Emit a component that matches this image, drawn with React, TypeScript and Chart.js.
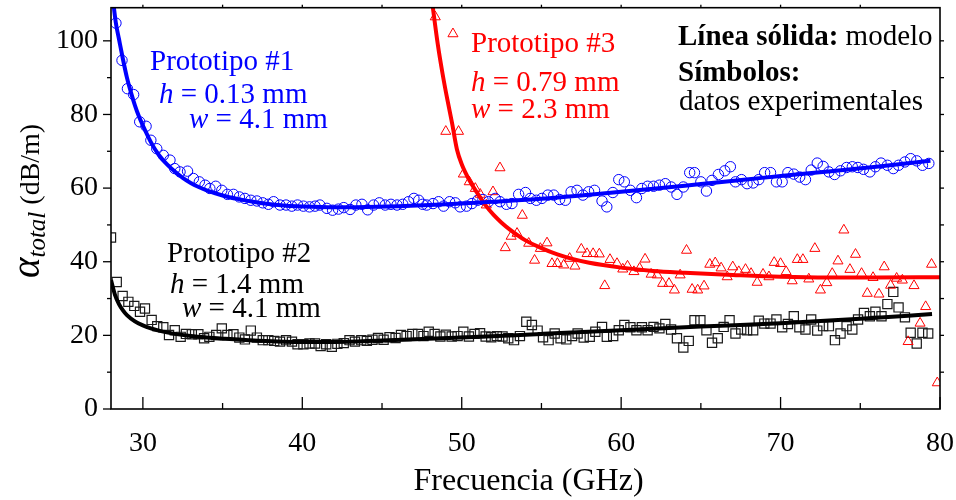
import React, { useEffect, useRef } from 'react';
import { Chart, registerables } from 'chart.js';

Chart.register(...registerables);

const FONT = '"Liberation Serif", "Times New Roman", Times, serif';

// ---------- axis ranges & ticks ----------
const xRange = [28, 80];
const yRange = [0, 109];
const xMajorTicks = [30, 40, 50, 60, 70, 80];
const xMinorTicks = [35, 45, 55, 65, 75];
const yMajorTicks = [0, 20, 40, 60, 80, 100];
const yMinorTicks = [10, 30, 50, 70, 90];
const yRightTicks = [10, 20, 30, 40, 50, 60, 70, 80, 90, 100];
const xTopTicks = [30, 35, 40, 45, 50, 55, 60, 65, 70, 75];

// ---------- model curves (solid lines) ----------
const proto1ModelFreq = [28.1, 28.3, 28.5, 28.75, 29.0, 29.25, 29.5, 29.75, 30.0, 30.5, 31.0, 31.5, 32.0, 32.5, 33.0, 33.5, 34.0, 35.0, 36.0, 37.0, 38.0, 39.0, 40.0, 42.0, 44.0, 46.0, 48.0, 50.0, 52.0, 55.0, 58.0, 60.0, 62.0, 65.0, 68.0, 70.0, 73.0, 76.0, 79.4];
const proto1ModelVal = [112, 105, 100.5, 95, 90, 86, 82.5, 79.5, 77, 72.5, 69, 66.5, 64.5, 62.8, 61.4, 60.3, 59.4, 58.0, 57.0, 56.2, 55.6, 55.2, 55.0, 54.8, 54.9, 55.1, 55.4, 55.8, 56.3, 57.1, 58.2, 59.0, 59.8, 61.1, 62.4, 63.3, 64.5, 65.8, 67.4];

const proto2ModelFreq = [28.0, 28.25, 28.5, 28.75, 29.0, 29.5, 30.0, 30.5, 31.0, 32.0, 33.0, 34.0, 35.0, 37.0, 40.0, 42.0, 45.0, 50.0, 55.0, 60.0, 65.0, 70.0, 75.0, 79.5];
const proto2ModelVal = [35, 31, 28.5, 26.8, 25.5, 23.8, 22.7, 21.9, 21.3, 20.4, 19.8, 19.4, 19.1, 18.6, 18.2, 18.2, 18.6, 19.4, 20.4, 21.4, 22.4, 23.3, 24.5, 25.8];

const proto3ModelFreq = [48.1, 48.5, 48.8, 49.1, 49.4, 49.7, 50.0, 50.5, 51.0, 51.5, 52.0, 52.5, 53.0, 54.0, 55.0, 56.0, 57.0, 58.0, 60.0, 62.0, 64.0, 67.0, 70.0, 73.0, 76.0, 80.0];
const proto3ModelVal = [112, 99, 91, 84, 77.5, 70.5, 66.5, 62, 58.5, 55.3, 52.7, 50.6, 48.8, 45.8, 43.7, 42.0, 40.7, 39.7, 38.4, 37.5, 37.0, 36.4, 35.9, 35.7, 35.7, 35.8];

// ---------- experimental data (symbols) ----------
const proto1Freq = [28.31, 28.69, 29.03, 29.42, 29.8, 30.2, 30.5, 30.87, 31.28, 31.7, 32.0, 32.33, 32.8, 33.17, 33.54, 33.9, 34.2, 34.57, 34.95, 35.3, 35.68, 36.05, 36.4, 36.77, 37.15, 37.52, 37.87, 38.2, 38.6, 38.98, 39.34, 39.7, 40.07, 40.45, 40.8, 41.1, 41.54, 41.9, 42.27, 42.6, 43.0, 43.36, 43.74, 44.1, 44.47, 44.83, 45.2, 45.56, 45.94, 46.3, 46.66, 47.0, 47.3, 47.55, 47.8, 48.2, 48.55, 48.86, 49.24, 49.6, 49.9, 50.3, 50.64, 51.0, 51.33, 51.68, 52.1, 52.4, 52.8, 53.15, 53.57, 54.0, 54.3, 54.68, 55.03, 55.4, 55.77, 56.14, 56.5, 56.86, 57.23, 57.6, 57.96, 58.33, 58.8, 59.1, 59.48, 59.85, 60.2, 60.58, 60.96, 61.3, 61.66, 62.03, 62.4, 62.77, 63.14, 63.5, 63.9, 64.3, 64.6, 65.0, 65.35, 65.7, 66.1, 66.5, 66.85, 67.17, 67.55, 67.9, 68.28, 68.63, 69.0, 69.37, 69.74, 70.1, 70.46, 70.83, 71.2, 71.56, 71.92, 72.3, 72.67, 73.03, 73.39, 73.76, 74.14, 74.5, 74.85, 75.2, 75.6, 75.95, 76.3, 76.7, 77.07, 77.4, 77.8, 78.16, 78.54, 78.9, 79.3];
const proto1Val = [104.8, 94.7, 87.0, 85.4, 78.0, 76.8, 73.0, 70.7, 68.9, 67.6, 65.3, 64.4, 64.6, 62.6, 61.7, 60.8, 59.9, 60.5, 59.4, 58.3, 58.3, 57.6, 57.2, 56.7, 56.5, 56.0, 55.6, 56.3, 55.4, 55.4, 55.1, 55.4, 55.1, 54.9, 55.1, 55.4, 54.5, 54.0, 54.3, 54.7, 54.2, 55.4, 55.6, 54.1, 55.4, 56.0, 55.4, 55.6, 55.4, 55.6, 56.3, 57.2, 56.7, 55.6, 55.4, 55.8, 56.3, 55.1, 56.3, 56.0, 54.9, 55.1, 55.8, 56.7, 56.9, 56.3, 57.2, 56.3, 55.6, 55.8, 58.3, 58.8, 57.2, 56.7, 57.2, 58.1, 58.1, 56.9, 56.7, 59.0, 59.4, 58.1, 59.0, 59.4, 56.5, 54.9, 58.8, 62.3, 61.7, 59.4, 57.4, 59.9, 60.5, 60.5, 60.8, 61.2, 60.3, 58.3, 60.3, 64.2, 64.2, 61.7, 59.2, 62.1, 63.7, 64.7, 65.8, 61.7, 62.3, 61.2, 61.4, 62.3, 64.2, 64.2, 61.7, 61.7, 64.2, 63.8, 63.0, 62.3, 64.9, 66.8, 65.9, 64.4, 63.7, 64.7, 65.6, 65.8, 65.6, 65.1, 64.4, 65.8, 66.8, 66.2, 65.3, 66.2, 67.1, 68.0, 67.4, 66.2, 66.7];

const proto2Freq = [28.0, 28.36, 28.73, 29.09, 29.46, 29.82, 30.13, 30.55, 30.9, 31.28, 31.64, 32.0, 32.37, 32.7, 33.07, 33.48, 33.84, 34.17, 34.6, 34.95, 35.3, 35.68, 36.05, 36.4, 36.77, 37.15, 37.52, 37.87, 38.24, 38.6, 38.98, 39.35, 39.7, 40.07, 40.45, 40.8, 41.15, 41.5, 41.85, 42.2, 42.6, 42.96, 43.3, 43.7, 44.05, 44.4, 44.75, 45.1, 45.47, 45.85, 46.19, 46.54, 46.9, 47.26, 47.6, 47.93, 48.3, 48.66, 49.0, 49.37, 49.74, 50.1, 50.45, 50.8, 51.15, 51.5, 51.85, 52.2, 52.56, 52.92, 53.28, 53.65, 54.05, 54.4, 54.76, 55.1, 55.45, 55.83, 56.2, 56.56, 56.92, 57.27, 57.65, 58.03, 58.38, 58.8, 59.1, 59.5, 59.85, 60.2, 60.58, 60.96, 61.3, 61.66, 62.03, 62.4, 62.77, 63.13, 63.5, 63.9, 64.24, 64.6, 64.97, 65.35, 65.7, 66.06, 66.43, 66.8, 67.17, 67.53, 67.9, 68.28, 68.63, 68.98, 69.37, 69.74, 70.1, 70.46, 70.83, 71.18, 71.56, 71.92, 72.3, 72.67, 73.03, 73.41, 73.76, 74.14, 74.5, 74.86, 75.23, 75.6, 75.95, 76.33, 76.7, 77.07, 77.4, 77.8, 78.16, 78.54, 78.9, 79.26];
const proto2Val = [46.6, 34.5, 30.7, 29.1, 28.0, 26.4, 27.3, 24.2, 22.5, 22.2, 20.1, 21.4, 19.6, 20.4, 20.3, 20.3, 19.2, 19.6, 20.1, 21.9, 20.1, 20.3, 19.4, 18.9, 21.3, 19.4, 18.7, 18.7, 18.5, 18.3, 18.7, 18.3, 17.6, 17.6, 17.8, 17.8, 17.1, 17.6, 16.9, 17.7, 17.9, 18.7, 18.3, 18.7, 18.5, 18.8, 19.3, 18.8, 19.5, 19.3, 20.1, 19.8, 20.4, 20.4, 19.8, 21.0, 20.4, 19.7, 20.2, 19.7, 19.8, 21.0, 19.7, 20.4, 20.6, 19.7, 19.5, 19.8, 19.7, 19.2, 18.7, 19.8, 23.7, 22.8, 21.3, 19.5, 18.7, 20.5, 19.2, 18.9, 19.8, 20.5, 19.4, 19.6, 21.0, 22.3, 19.6, 19.8, 21.4, 22.8, 22.2, 21.4, 22.2, 21.4, 22.3, 21.9, 23.1, 21.6, 19.2, 16.7, 18.5, 24.1, 24.1, 21.4, 18.0, 19.2, 22.3, 24.1, 20.5, 21.6, 21.4, 21.4, 24.0, 23.2, 23.2, 24.3, 22.2, 23.1, 25.2, 22.2, 21.6, 24.3, 21.3, 22.5, 22.5, 18.7, 20.5, 22.5, 21.6, 24.3, 26.1, 25.2, 26.4, 25.2, 28.5, 31.8, 27.6, 24.9, 20.7, 17.8, 20.7, 20.5];

const proto3Freq = [48.34, 49.0, 49.45, 49.8, 50.1, 50.47, 50.85, 51.16, 51.54, 51.96, 52.4, 52.73, 53.1, 53.47, 53.8, 54.2, 54.57, 54.93, 55.35, 55.66, 56.0, 56.4, 56.77, 57.1, 57.5, 57.86, 58.24, 58.63, 58.97, 59.3, 59.74, 60.1, 60.4, 60.8, 61.16, 61.5, 61.88, 62.26, 62.6, 63.0, 63.34, 63.7, 64.1, 64.45, 64.8, 65.2, 65.56, 65.9, 66.27, 66.65, 67.0, 67.38, 67.8, 68.15, 68.53, 68.9, 69.27, 69.6, 70.0, 70.35, 70.73, 71.05, 71.4, 71.77, 72.15, 72.5, 72.9, 73.24, 73.6, 73.97, 74.35, 74.7, 75.08, 75.44, 75.8, 76.17, 76.5, 76.9, 77.28, 77.64, 78.0, 78.37, 78.75, 79.1, 79.47, 79.83];
const proto3Val = [106.5, 75.4, 101.9, 75.4, 63.8, 61.7, 59.9, 58.3, 55.4, 59.0, 65.5, 43.8, 46.9, 47.7, 52.6, 45.0, 40.4, 43.6, 45.1, 39.5, 39.5, 39.1, 40.9, 38.8, 43.4, 42.2, 42.2, 42.1, 33.5, 40.6, 39.5, 38.0, 38.8, 37.3, 38.2, 40.7, 36.6, 36.4, 34.1, 34.1, 32.3, 36.4, 43.1, 32.5, 32.3, 33.4, 39.3, 39.7, 38.3, 35.9, 38.6, 37.3, 37.9, 36.8, 34.4, 36.6, 35.9, 39.8, 39.5, 37.3, 34.8, 40.6, 40.6, 35.3, 43.6, 32.3, 34.3, 36.8, 40.2, 48.6, 37.9, 42.0, 36.8, 31.4, 35.7, 31.2, 38.6, 33.6, 35.5, 35.0, 18.3, 33.5, 23.3, 27.8, 39.3, 7.1];

// ---------- text ----------
type Seg = { text: string; italic?: boolean; bold?: boolean };
type Note = { color: string; x: number; y: number; size: number; segs: Seg[] };

const notes: Note[] = [
  { color: '#0000ff', x: 150, y: 70, size: 29, segs: [{ text: 'Prototipo #1' }] },
  { color: '#0000ff', x: 159, y: 103, size: 29, segs: [{ text: 'h', italic: true }, { text: ' = 0.13 mm' }] },
  { color: '#0000ff', x: 189, y: 128, size: 29, segs: [{ text: 'w', italic: true }, { text: ' = 4.1 mm' }] },
  { color: '#000000', x: 167, y: 262, size: 29, segs: [{ text: 'Prototipo #2' }] },
  { color: '#000000', x: 170, y: 293, size: 29, segs: [{ text: 'h', italic: true }, { text: ' = 1.4 mm' }] },
  { color: '#000000', x: 182, y: 317, size: 29, segs: [{ text: 'w', italic: true }, { text: ' = 4.1 mm' }] },
  { color: '#ff0000', x: 471, y: 52, size: 29, segs: [{ text: 'Prototipo #3' }] },
  { color: '#ff0000', x: 471, y: 91, size: 29, segs: [{ text: 'h', italic: true }, { text: ' = 0.79 mm' }] },
  { color: '#ff0000', x: 471, y: 118, size: 29, segs: [{ text: 'w', italic: true }, { text: ' = 2.3 mm' }] },
  { color: '#000000', x: 678, y: 45, size: 29, segs: [{ text: 'Línea sólida:', bold: true }, { text: ' modelo' }] },
  { color: '#000000', x: 678, y: 81, size: 29, segs: [{ text: 'Símbolos:', bold: true }] },
  { color: '#000000', x: 679, y: 110, size: 29, segs: [{ text: 'datos experimentales' }] },
];

const xTitle = 'Frecuencia (GHz)';
const yTitleSymbol = 'α';
const yTitleSub = 'total';
const yTitleUnit = ' (dB/m)';

const pairs = (xs: number[], ys: number[]) => xs.map((x, i) => ({ x, y: ys[i] }));

const fontStr = (size: number, italic?: boolean, bold?: boolean) =>
  `${italic ? 'italic ' : ''}${bold ? 'bold ' : ''}${size}px ${FONT}`;

const framePlugin = {
  id: 'frameAndText',
  afterDraw(chart: any) {
    const { ctx, chartArea: a, scales } = chart;
    const xs = scales.x;
    const ys = scales.y;
    ctx.save();
    ctx.strokeStyle = '#000';
    ctx.lineWidth = 1.6;
    ctx.strokeRect(a.left, a.top, a.right - a.left, a.bottom - a.top);
    ctx.lineWidth = 1.3;
    const line = (x1: number, y1: number, x2: number, y2: number) => {
      ctx.beginPath();
      ctx.moveTo(x1, y1);
      ctx.lineTo(x2, y2);
      ctx.stroke();
    };
    xMajorTicks.forEach((v) => { const p = xs.getPixelForValue(v); line(p, a.bottom, p, a.bottom - 12); });
    xMinorTicks.forEach((v) => { const p = xs.getPixelForValue(v); line(p, a.bottom, p, a.bottom - 6); });
    xTopTicks.forEach((v) => { const p = xs.getPixelForValue(v); line(p, a.top, p, a.top - 3); });
    yMajorTicks.forEach((v) => { const p = ys.getPixelForValue(v); line(a.left, p, a.left - 8, p); });
    yMinorTicks.forEach((v) => { const p = ys.getPixelForValue(v); line(a.left, p, a.left - 4, p); });
    yRightTicks.forEach((v) => { const p = ys.getPixelForValue(v); line(a.right, p, a.right + 4, p); });

    // annotations
    ctx.textBaseline = 'alphabetic';
    ctx.textAlign = 'left';
    notes.forEach((n) => {
      ctx.fillStyle = n.color;
      let x = n.x;
      n.segs.forEach((s) => {
        ctx.font = fontStr(n.size, s.italic, s.bold);
        ctx.fillText(s.text, x, n.y);
        x += ctx.measureText(s.text).width;
      });
    });

    // x title
    ctx.fillStyle = '#000';
    ctx.font = fontStr(32);
    ctx.textAlign = 'center';
    ctx.fillText(xTitle, (a.left + a.right) / 2 + 3, 490);

    // y title (rotated)
    ctx.textAlign = 'left';
    ctx.translate(39, 278);
    ctx.rotate(-Math.PI / 2);
    let u = 0;
    ctx.font = fontStr(39, true);
    ctx.fillText(yTitleSymbol, u, 0);
    u += ctx.measureText(yTitleSymbol).width;
    ctx.font = fontStr(25, true);
    ctx.fillText(yTitleSub, u, 6);
    u += ctx.measureText(yTitleSub).width;
    ctx.font = fontStr(28);
    ctx.fillText(yTitleUnit, u, 0);
    ctx.restore();
  },
};

const zeroPad = (s: any) => {
  s.paddingTop = 0;
  s.paddingBottom = 0;
  s.paddingLeft = 0;
  s.paddingRight = 0;
};

export default function App() {
  const ref = useRef<HTMLCanvasElement | null>(null);

  useEffect(() => {
    if (!ref.current) return;
    const lineDs = (label: string, xsArr: number[], ysArr: number[], color: string) => ({
      label,
      data: pairs(xsArr, ysArr),
      showLine: true,
      borderColor: color,
      backgroundColor: color,
      borderWidth: 4,
      pointRadius: 0,
      cubicInterpolationMode: 'monotone' as const,
      clip: 0,
    });
    const symDs = (label: string, xsArr: number[], ysArr: number[], color: string, style: string, r: number, bw: number) => ({
      label,
      data: pairs(xsArr, ysArr),
      showLine: false,
      pointStyle: style,
      pointRadius: r,
      pointBorderColor: color,
      pointBackgroundColor: 'rgba(0,0,0,0)',
      pointBorderWidth: bw,
      borderColor: color,
      clip: 0,
    });

    const chart = new Chart(ref.current, {
      type: 'scatter',
      data: {
        datasets: [
          lineDs('Modelo #1', proto1ModelFreq, proto1ModelVal, '#0000ff'),
          lineDs('Modelo #3', proto3ModelFreq, proto3ModelVal, '#ff0000'),
          lineDs('Modelo #2', proto2ModelFreq, proto2ModelVal, '#000000'),
          symDs('Prototipo #1', proto1Freq, proto1Val, '#0000ff', 'circle', 5.2, 1),
          symDs('Prototipo #3', proto3Freq, proto3Val, '#ff0000', 'triangle', 5.8, 1),
          symDs('Prototipo #2', proto2Freq, proto2Val, '#1a1a1a', 'rect', 6.5, 1.2),
        ] as any,
      },
      options: {
        animation: false,
        responsive: false,
        maintainAspectRatio: false,
        devicePixelRatio: 1,
        layout: { padding: { left: 0, right: 16, top: 7, bottom: 0 } },
        plugins: { legend: { display: false }, tooltip: { enabled: false } },
        scales: {
          x: {
            type: 'linear',
            min: xRange[0],
            max: xRange[1],
            grid: { display: false, drawTicks: false },
            border: { display: false },
            ticks: { font: { family: FONT, size: 28 }, color: '#000', padding: 18, maxRotation: 0, autoSkip: false },
            afterBuildTicks: (s: any) => { s.ticks = xMajorTicks.map((v) => ({ value: v })); },
            afterFit: (s: any) => { s.height = 91; zeroPad(s); },
          },
          y: {
            type: 'linear',
            min: yRange[0],
            max: yRange[1],
            grid: { display: false, drawTicks: false },
            border: { display: false },
            ticks: { font: { family: FONT, size: 28 }, color: '#000', padding: 13, autoSkip: false },
            afterBuildTicks: (s: any) => { s.ticks = yMajorTicks.map((v) => ({ value: v })); },
            afterFit: (s: any) => { s.width = 111; zeroPad(s); },
          },
        },
      } as any,
      plugins: [framePlugin],
    });
    return () => chart.destroy();
  }, []);

  return (
    <div style={{ position: 'fixed', left: 0, top: 0, width: 956, height: 500, background: '#fff' }}>
      <canvas ref={ref} width={956} height={500} style={{ width: 956, height: 500, display: 'block' }} />
    </div>
  );
}
